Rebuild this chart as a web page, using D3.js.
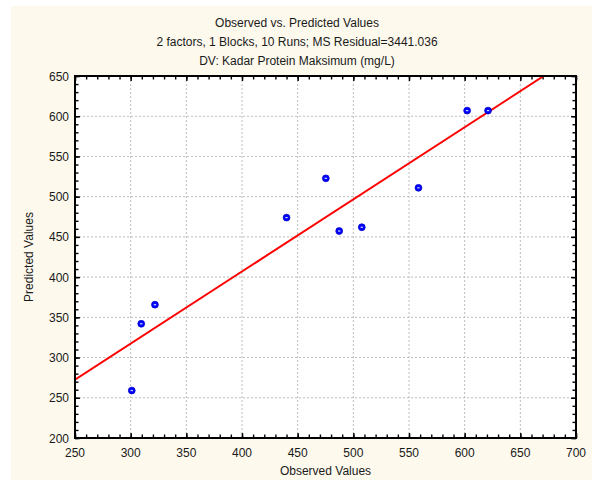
<!DOCTYPE html>
<html><head><meta charset="utf-8">
<script src="https://cdn.jsdelivr.net/npm/d3@7"></script>
<style>body{margin:0;background:#fff;}svg{display:block;}</style>
</head><body>
<script>
// Data
const observed  = [301, 309.5, 321.8, 440, 475.3, 487.3, 507.6, 558.5, 602.2, 621];
const predicted = [259, 342, 365.7, 474, 522.8, 457.3, 462, 511, 607, 607];
const fitX = [250, 671];
const fitY = [272.5, 650];
const xTicks = [250, 300, 350, 400, 450, 500, 550, 600, 650, 700];
const yTicks = [200, 250, 300, 350, 400, 450, 500, 550, 600, 650];
const titles = ["Observed vs. Predicted Values",
  "2 factors, 1 Blocks, 10 Runs; MS Residual=3441.036",
  "DV: Kadar Protein Maksimum (mg/L)"];
const xTitle = "Observed Values";
const yTitle = "Predicted Values";

const W = 592, H = 480;
const svg = d3.select("body").append("svg").attr("width", W).attr("height", H);
svg.append("rect").attr("x", 0).attr("y", 0).attr("width", W).attr("height", H).attr("fill", "#fff");
svg.append("rect").attr("x", 11).attr("y", 6).attr("width", W - 11).attr("height", H - 6).attr("fill", "#fdf9ed");

const L = 75, R = 576, T = 76, B = 438;
const x = d3.scaleLinear().domain([250, 700]).range([L, R]);
const y = d3.scaleLinear().domain([200, 650]).range([B, T]);

svg.append("rect").attr("x", L).attr("y", T).attr("width", R - L).attr("height", B - T).attr("fill", "#fff");

const font = "Liberation Sans, Arial, sans-serif";
const txtCol = "#1a1a1a";

// grid
const g = svg.append("g");
g.selectAll(".gx").data(xTicks.slice(1, -1)).join("line")
  .attr("x1", d => x(d)).attr("x2", d => x(d)).attr("y1", T).attr("y2", B)
  .attr("stroke", "#bdbdbd").attr("stroke-dasharray", "2,2").attr("stroke-width", 1);
g.selectAll(".gy").data(yTicks.slice(1, -1)).join("line")
  .attr("y1", d => y(d)).attr("y2", d => y(d)).attr("x1", L).attr("x2", R)
  .attr("stroke", "#bdbdbd").attr("stroke-dasharray", "2,2").attr("stroke-width", 1);

// inward ticks on all four sides using d3 axes
const xMinor = d3.range(250, 701, 10);
const yMinor = d3.range(200, 651, 10);
function addAxis(axisGen, tx, ty) {
  const a = svg.append("g").attr("transform", `translate(${tx},${ty})`).call(axisGen);
  a.select(".domain").remove();
  a.selectAll("text").remove();
  a.selectAll("line").attr("stroke", "#000").attr("stroke-width", 1.4);
  return a;
}
addAxis(d3.axisBottom(x).tickValues(xMinor).tickSize(-3.5), 0, B);
addAxis(d3.axisTop(x).tickValues(xMinor).tickSize(-3.5), 0, T);
addAxis(d3.axisLeft(y).tickValues(yMinor).tickSize(-3.5), L, 0);
addAxis(d3.axisRight(y).tickValues(yMinor).tickSize(-3.5), R, 0);
addAxis(d3.axisBottom(x).tickValues(xTicks).tickSize(-5), 0, B);
addAxis(d3.axisTop(x).tickValues(xTicks).tickSize(-5), 0, T);
addAxis(d3.axisLeft(y).tickValues(yTicks).tickSize(-5), L, 0);
addAxis(d3.axisRight(y).tickValues(yTicks).tickSize(-5), R, 0);

// fit line
svg.append("clipPath").attr("id", "pc").append("rect")
  .attr("x", L).attr("y", T).attr("width", R - L).attr("height", B - T);
svg.append("path").attr("clip-path", "url(#pc)")
  .attr("d", d3.line()(fitX.map((v, i) => [x(v), y(fitY[i])])))
  .attr("stroke", "#ff0000").attr("stroke-width", 2).attr("fill", "none");

// points
const pts = svg.append("g");
observed.forEach((o, i) => {
  pts.append("circle").attr("cx", x(o)).attr("cy", y(predicted[i])).attr("r", 3.4)
    .attr("fill", "#0000ff").attr("stroke", "#0000cc").attr("stroke-width", 0.8);
  pts.append("rect").attr("x", x(o) - 1.2).attr("y", y(predicted[i]) - 0.6)
    .attr("width", 2.4).attr("height", 1.2).attr("fill", "#cfd8ff");
});

// frame
svg.append("rect").attr("x", L).attr("y", T).attr("width", R - L).attr("height", B - T)
  .attr("fill", "none").attr("stroke", "#000").attr("stroke-width", 2);

// tick labels
svg.selectAll(".xl").data(xTicks).join("text")
  .attr("x", d => x(d)).attr("y", 457).attr("text-anchor", "middle")
  .attr("font-family", font).attr("font-size", 12).attr("fill", txtCol).text(d => d);
svg.selectAll(".yl").data(yTicks).join("text")
  .attr("x", 69).attr("y", d => y(d) + 4.5).attr("text-anchor", "end")
  .attr("font-family", font).attr("font-size", 12).attr("fill", txtCol).text(d => d);

// titles
titles.forEach((t, i) => {
  svg.append("text").attr("x", 297).attr("y", 27 + i * 19.2).attr("text-anchor", "middle")
    .attr("font-family", font).attr("font-size", 12).attr("fill", txtCol).text(t);
});
svg.append("text").attr("x", (L + R) / 2).attr("y", 475).attr("text-anchor", "middle")
  .attr("font-family", font).attr("font-size", 12).attr("fill", txtCol).text(xTitle);
svg.append("text").attr("transform", `translate(33,${(T + B) / 2}) rotate(-90)`)
  .attr("text-anchor", "middle")
  .attr("font-family", font).attr("font-size", 12).attr("fill", txtCol).text(yTitle);
</script>
</body></html>
